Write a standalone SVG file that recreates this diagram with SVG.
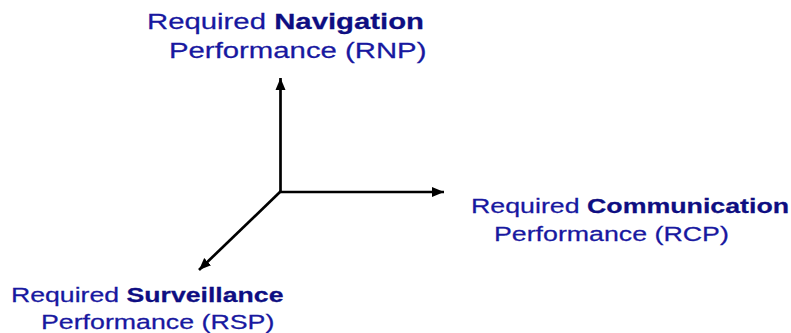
<svg xmlns="http://www.w3.org/2000/svg" width="791" height="333" viewBox="0 0 791 333">
  <style>
    .lbl { font-family: "Liberation Sans", Arial, sans-serif; fill: #1818a0; stroke: #1818a0; stroke-width: 0.25; }
    .b { font-weight: bold; fill: #0e0e82; stroke: #0e0e82; }
    .axis { stroke: #000; stroke-width: 2.7; fill: none; }
  </style>
  <defs>
    <marker id="head" markerUnits="userSpaceOnUse" markerWidth="14" markerHeight="14" viewBox="0 0 14 14" refX="12" refY="7" orient="auto">
      <path d="M0,2 L12,7 L0,12 Z" fill="#000"/>
    </marker>
  </defs>

  <!-- axes -->
  <g id="connectors">
    <line class="axis" x1="280.5" y1="192" x2="280.5" y2="78" marker-end="url(#head)"/>
    <line class="axis" x1="279.5" y1="192" x2="444" y2="192" marker-end="url(#head)"/>
    <line class="axis" x1="281" y1="191" x2="199" y2="270" marker-end="url(#head)"/>
  </g>

  <!-- navigation axis label -->
  <g id="rnp">
    <g transform="translate(147,29) scale(1.315,1)">
      <text class="lbl" font-size="22.3">Required <tspan class="b">Navigation</tspan></text>
    </g>
    <g transform="translate(169,58) scale(1.315,1)">
      <text class="lbl" font-size="22.3">Performance (RNP)</text>
    </g>
  </g>

  <!-- communication axis label -->
  <g id="rcp">
    <g transform="translate(471,213) scale(1.305,1)">
      <text class="lbl" font-size="20.5">Required <tspan class="b">Communication</tspan></text>
    </g>
    <g transform="translate(494,241) scale(1.305,1)">
      <text class="lbl" font-size="20.5">Performance (RCP)</text>
    </g>
  </g>

  <!-- surveillance axis label -->
  <g id="rsp">
    <g transform="translate(11,302) scale(1.3,1)">
      <text class="lbl" font-size="20.5">Required <tspan class="b">Surveillance</tspan></text>
    </g>
    <g transform="translate(41,329) scale(1.305,1)">
      <text class="lbl" font-size="20.5">Performance (RSP)</text>
    </g>
  </g>
</svg>
